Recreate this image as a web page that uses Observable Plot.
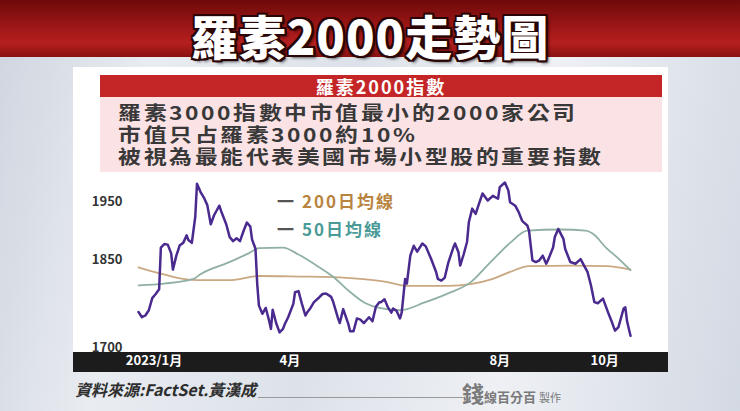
<!DOCTYPE html>
<html><head><meta charset="utf-8">
<script src="https://cdn.jsdelivr.net/npm/d3@7"></script>
<script src="https://cdn.jsdelivr.net/npm/@observablehq/plot@0.6"></script>
<style>
@font-face{font-family:"CJKTight";src:local("Noto Sans CJK TC Bold"),local("NotoSansCJKtc-Bold"),local("Noto Sans CJK TC");font-weight:700;ascent-override:88%;descent-override:14%;line-gap-override:0%;}
html,body{margin:0;padding:0;}
body{width:740px;height:411px;overflow:hidden;font-family:"Noto Sans CJK TC","Noto Sans CJK SC",sans-serif;}
#stage{position:relative;width:740px;height:411px;overflow:hidden;
  background:linear-gradient(100deg,#cfd5df 0%,#e9ecf1 20%,#dde2ea 45%,#eef0f4 70%,#d3d9e3 100%);}
.banner{position:absolute;left:0;top:0;width:740px;height:57px;
  background:linear-gradient(180deg,#6e0a0a 0%,#9c1616 45%,#b51f1f 75%,#8a1111 100%);}
.title{position:absolute;left:0;top:10px;width:740px;text-align:center;font-size:47px;line-height:50px;font-weight:900;color:#fff;letter-spacing:1px;
  text-shadow:-2px -2px 0 #2a0505,2px -2px 0 #2a0505,-2px 2px 0 #2a0505,2px 2px 0 #2a0505,0 -2px 0 #2a0505,0 2px 0 #2a0505,-2px 0 0 #2a0505,2px 0 0 #2a0505,3px 3px 3px rgba(0,0,0,.6);}
.panel{position:absolute;left:73px;top:67px;width:595px;height:286px;background:#fff;}
.hdr{position:absolute;left:100px;top:75px;width:562px;height:22px;background:#c42628;color:#fff;text-align:center;font-size:18px;line-height:22px;font-weight:700;letter-spacing:2px;}
.pink{position:absolute;left:100px;top:97px;width:562px;height:75px;background:#fbe2e5;}
.info{position:absolute;left:118px;font-family:"CJKTight","Noto Sans CJK TC",sans-serif;font-size:19px;line-height:22px;font-weight:700;color:#383838;letter-spacing:2.3px;white-space:nowrap;transform:scaleX(1.2);transform-origin:0 0;}
.axisbar{position:absolute;left:73px;top:352px;width:595px;height:20px;background:#1c1c1c;}
#chart{position:absolute;left:0;top:170px;}
.leg{position:absolute;font-size:17px;font-weight:700;line-height:20px;letter-spacing:2px;white-space:nowrap;}
.leg .dash{color:#555;margin-right:6px;}
.caption{position:absolute;left:75px;top:377px;font-size:16px;font-weight:700;font-style:italic;color:#2e2e2e;white-space:nowrap;}
.rule{position:absolute;left:258px;top:397px;width:205px;height:1px;background:#9a9a9a;}
.logo{position:absolute;left:462px;top:376px;color:#7a7a7a;white-space:nowrap;font-weight:700;}
.logo .big{font-size:22px;}
.logo .sm{font-size:13px;}
.logo .mk{font-size:11px;font-weight:400;margin-left:3px;}
</style></head>
<body>
<div id="stage">
  <div class="banner"></div>
  <div class="title">羅素2000走勢圖</div>
  <div class="panel"></div>
  <div class="hdr">羅素2000指數</div>
  <div class="pink"></div>
  <div class="info" style="top:102px">羅素3000指數中市值最小的2000家公司</div>
  <div class="info" style="top:124px">市值只占羅素3000約10%</div>
  <div class="info" style="top:146px">被視為最能代表美國市場小型股的重要指數</div>
  <div class="axisbar"></div>
  <div id="chart"></div>
  <div class="leg" style="left:277px;top:191px;color:#b9843f"><span class="dash">一</span>200日均線</div>
  <div class="leg" style="left:277px;top:219px;color:#4a9a98"><span class="dash">一</span>50日均線</div>
  <div class="caption">資料來源:FactSet.黃漢成</div>
  <div class="rule"></div>
  <div class="logo"><span class="big">錢</span><span class="sm">線百分百</span><span class="mk">製作</span></div>
</div>
<script>
// Russell 2000 index
const priceDates = ["2023-01-03","2023-01-05","2023-01-07","2023-01-09","2023-01-11","2023-01-13","2023-01-15","2023-01-16","2023-01-18","2023-01-20","2023-01-22","2023-01-23","2023-01-25","2023-01-27","2023-01-29","2023-01-31","2023-02-01","2023-02-03","2023-02-05","2023-02-06","2023-02-08","2023-02-10","2023-02-12","2023-02-14","2023-02-16","2023-02-19","2023-02-20","2023-02-23","2023-02-25","2023-02-27","2023-03-01","2023-03-03","2023-03-05","2023-03-07","2023-03-09","2023-03-10","2023-03-12","2023-03-13","2023-03-14","2023-03-16","2023-03-18","2023-03-20","2023-03-21","2023-03-22","2023-03-24","2023-03-26","2023-03-28","2023-03-29","2023-03-31","2023-04-03","2023-04-04","2023-04-06","2023-04-08","2023-04-10","2023-04-11","2023-04-13","2023-04-15","2023-04-18","2023-04-20","2023-04-22","2023-04-25","2023-04-26","2023-04-29","2023-04-30","2023-05-02","2023-05-05","2023-05-06","2023-05-08","2023-05-10","2023-05-12","2023-05-14","2023-05-17","2023-05-19","2023-05-21","2023-05-23","2023-05-24","2023-05-26","2023-05-28","2023-05-30","2023-05-31","2023-06-02","2023-06-04","2023-06-05","2023-06-07","2023-06-08","2023-06-10","2023-06-12","2023-06-14","2023-06-17","2023-06-19","2023-06-22","2023-06-25","2023-06-26","2023-06-28","2023-06-30","2023-07-02","2023-07-05","2023-07-06","2023-07-08","2023-07-09","2023-07-11","2023-07-13","2023-07-14","2023-07-16","2023-07-18","2023-07-20","2023-07-22","2023-07-25","2023-07-28","2023-07-31","2023-08-01","2023-08-04","2023-08-06","2023-08-07","2023-08-10","2023-08-12","2023-08-14","2023-08-17","2023-08-18","2023-08-20","2023-08-22","2023-08-24","2023-08-26","2023-08-28","2023-08-29","2023-09-01","2023-09-02","2023-09-04","2023-09-07","2023-09-08","2023-09-11","2023-09-14","2023-09-17","2023-09-19","2023-09-21","2023-09-23","2023-09-25","2023-09-27","2023-09-30","2023-10-03","2023-10-05","2023-10-07","2023-10-09","2023-10-12","2023-10-13","2023-10-14","2023-10-16"];
const priceValues = [1761,1752,1755,1764,1785,1792,1800,1872,1878,1877,1862,1834,1858,1876,1880,1893,1885,1880,1925,1982,1968,1958,1945,1912,1928,1944,1935,1912,1890,1883,1888,1883,1900,1915,1908,1886,1870,1810,1772,1758,1768,1745,1732,1765,1742,1726,1732,1740,1752,1775,1795,1797,1775,1755,1760,1768,1778,1786,1792,1793,1787,1780,1750,1742,1766,1740,1728,1728,1750,1748,1742,1752,1745,1770,1778,1778,1783,1769,1760,1767,1763,1750,1760,1818,1810,1858,1875,1865,1879,1874,1853,1830,1818,1815,1820,1845,1872,1879,1864,1841,1860,1882,1915,1939,1930,1948,1965,1953,1961,1956,1976,1984,1970,1950,1944,1933,1918,1910,1901,1850,1847,1850,1858,1844,1850,1872,1890,1904,1887,1870,1847,1844,1852,1841,1830,1807,1778,1776,1784,1760,1745,1729,1735,1767,1769,1745,1720];
// 200-day moving average
const ma200Dates = ["2023-01-03","2023-01-12","2023-01-20","2023-01-27","2023-02-06","2023-02-25","2023-03-14","2023-04-07","2023-04-25","2023-05-12","2023-05-27","2023-06-08","2023-07-02","2023-07-15","2023-07-28","2023-08-07","2023-08-18","2023-09-12","2023-10-02","2023-10-16"];
const ma200Values = [1838,1830,1824,1819,1816,1816,1823,1822,1821,1818,1813,1806,1806,1809,1818,1830,1840,1841,1840,1834];
// 50-day moving average
const ma50Dates = ["2023-01-03","2023-01-18","2023-02-04","2023-02-08","2023-02-24","2023-03-08","2023-03-14","2023-03-28","2023-04-06","2023-04-16","2023-04-26","2023-05-05","2023-05-15","2023-05-23","2023-06-04","2023-06-18","2023-07-02","2023-07-15","2023-07-27","2023-08-07","2023-08-17","2023-09-05","2023-09-20","2023-09-24","2023-10-02","2023-10-09","2023-10-16"];
const ma50Values = [1807,1810,1818,1826,1846,1862,1871,1872,1860,1842,1822,1798,1776,1768,1764,1777,1793,1812,1848,1880,1901,1903,1901,1896,1871,1853,1833];
// axes
const yTicks = [1700, 1850, 1950];
const xTickDates = ["2023-01-12","2023-04-01","2023-08-01","2023-10-01"];
const xTickLabels = ["2023/1月","4月","8月","10月"];

const toSeries = (ds, vs) => ds.map((d, i) => ({date: new Date(d + "T00:00:00Z"), value: vs[i]}));
const price = toSeries(priceDates, priceValues);
const ma200 = toSeries(ma200Dates, ma200Values);
const ma50 = toSeries(ma50Dates, ma50Values);
const tickMap = new Map(xTickDates.map((d, i) => [+new Date(d + "T00:00:00Z"), xTickLabels[i]]));

const chart = Plot.plot({
  width: 740, height: 203,
  marginLeft: 138, marginRight: 110, marginTop: 5, marginBottom: 21,
  style: {background: "transparent", fontFamily: "'Noto Sans CJK TC', sans-serif", overflow: "visible"},
  x: {type: "utc", domain: [new Date("2023-01-03T00:00:00Z"), new Date("2023-10-16T00:00:00Z")]},
  y: {domain: [1691.3, 1996]},
  marks: [
    Plot.axisY({ticks: yTicks, tickFormat: d => String(d), tickSize: 0, tickPadding: 16, label: null, fontSize: 13, fontWeight: "bold", fill: "#333"}),
    Plot.axisX({ticks: xTickDates.map(d => new Date(d + "T00:00:00Z")), tickFormat: d => tickMap.get(+d), tickSize: 0, tickPadding: 3, label: null, fontSize: 13, fontWeight: "bold", fill: "#fff"}),
    Plot.line(ma200, {x: "date", y: "value", stroke: "#c9a882", strokeWidth: 1.8, curve: "monotone-x"}),
    Plot.line(ma50, {x: "date", y: "value", stroke: "#8fb0a3", strokeWidth: 1.8, curve: "monotone-x"}),
    Plot.line(price, {x: "date", y: "value", stroke: "#4a2a8e", strokeWidth: 2.5, strokeLinejoin: "round"})
  ]
});
document.getElementById("chart").appendChild(chart);
</script>
</body></html>
